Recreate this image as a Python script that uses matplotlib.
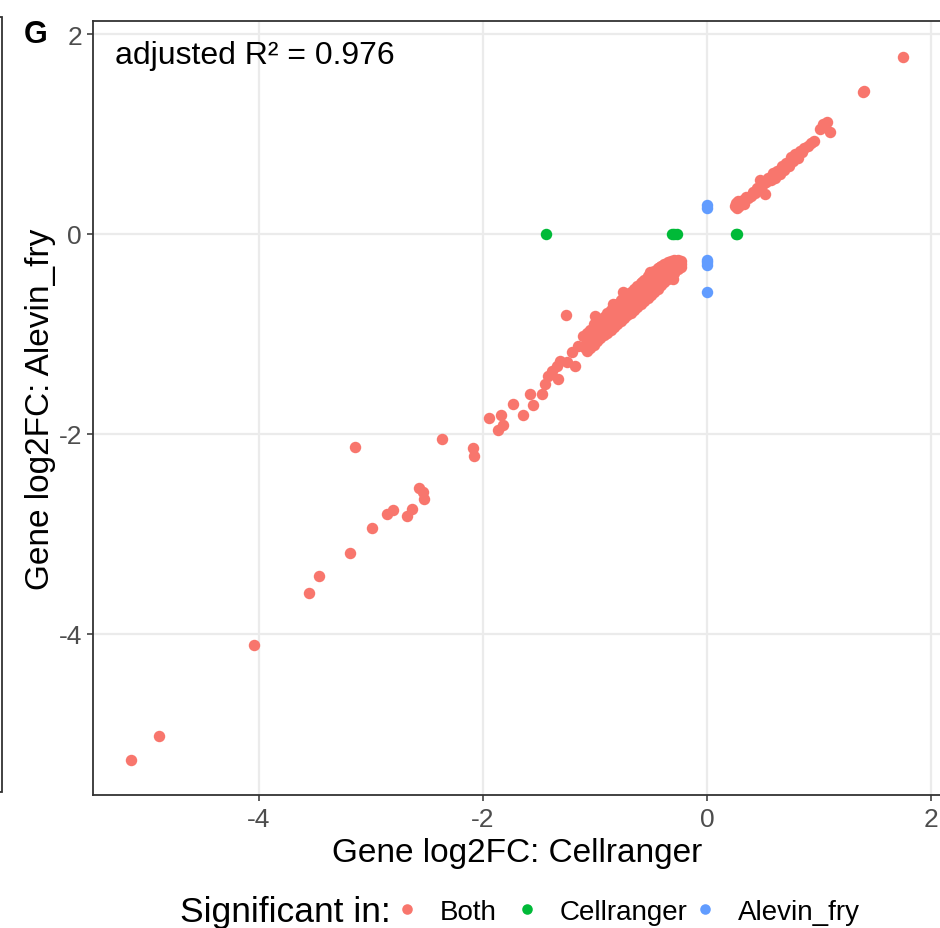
import matplotlib
matplotlib.use("Agg")
import matplotlib.pyplot as plt
from matplotlib.lines import Line2D
from matplotlib.patches import Rectangle

plt.rcParams['font.family'] = ['Liberation Sans', 'DejaVu Sans']

# ---------------- data ----------------
both_x = [
    -5.14, -4.89, -4.04, -3.55, -3.46, -3.19, -3.14, -2.985, -2.857, -2.80,
    -2.68, -2.634, -2.571, -2.536, -2.527, -2.366, -2.089, -2.083, -1.869, -1.824,
    -1.946, -1.84, -1.73, -1.64, -1.259,
    -1.58, -1.556, -1.476, -1.446, -1.417, -1.387, -1.342, -1.328, -1.3125, -1.253,
    -1.208, -1.179, -1.149, -1.104, -1.074, -1.10,
    -1.07, -1.07, -1.07, -1.04, -1.04, -1.04, -1.01, -1.01, -1.01,
    -0.98, -0.98, -0.98, -0.95, -0.95, -0.95, -0.92, -0.92, -0.92,
    -0.89, -0.89, -0.89, -0.86, -0.86, -0.86, -0.83, -0.83, -0.83,
    -0.80, -0.80, -0.80, -0.77, -0.77, -0.77, -0.74, -0.74, -0.74,
    -0.71, -0.71, -0.71, -0.68, -0.68, -0.68, -0.65, -0.65, -0.65,
    -0.62, -0.62, -0.62, -0.59, -0.59, -0.59, -0.56, -0.56, -0.56,
    -0.53, -0.53, -0.53, -0.50, -0.50, -0.50, -0.47, -0.47, -0.47,
    -0.44, -0.44, -0.44, -0.41, -0.41, -0.41, -0.38, -0.38, -0.38,
    -0.35, -0.35, -0.35, -0.32, -0.32, -0.32, -0.29, -0.29, -0.29,
    -0.26, -0.26, -0.26, -0.235, -0.235, -0.235,
    -1.00, -0.837, -0.747, -0.643, -0.583, -0.509, -0.42, -0.27, -0.30,
    0.25, 0.26, 0.27, 0.28, 0.29, 0.30, 0.32, 0.33, 0.35, 0.37,
    0.39, 0.41, 0.43, 0.45, 0.47, 0.47, 0.49, 0.51, 0.52, 0.53,
    0.55, 0.57, 0.59, 0.61, 0.63, 0.65, 0.67, 0.69, 0.71, 0.73,
    0.75, 0.77, 0.79, 0.81, 0.83, 0.85, 0.87, 0.90, 0.93, 0.96,
    1.039, 1.009, 1.098, 1.069, 1.39, 1.40, 1.747,
]
both_y = [
    -5.26, -5.02, -4.107, -3.59, -3.42, -3.19, -2.13, -2.937, -2.80, -2.76,
    -2.82, -2.747, -2.537, -2.577, -2.647, -2.047, -2.14, -2.217, -1.96, -1.91,
    -1.84, -1.807, -1.70, -1.807, -0.807,
    -1.60, -1.71, -1.60, -1.50, -1.417, -1.367, -1.317, -1.45, -1.267, -1.283,
    -1.183, -1.317, -1.117, -1.017, -1.15, -1.13,
    -0.99, -1.08, -1.17, -0.96, -1.05, -1.14, -0.90, -1.02, -1.11,
    -0.89, -0.99, -1.07, -0.86, -0.95, -1.04, -0.83, -0.93, -1.01,
    -0.79, -0.90, -0.99, -0.76, -0.87, -0.96, -0.72, -0.84, -0.93,
    -0.70, -0.81, -0.90, -0.66, -0.77, -0.87, -0.62, -0.74, -0.84,
    -0.60, -0.71, -0.81, -0.58, -0.68, -0.79, -0.55, -0.66, -0.76,
    -0.52, -0.63, -0.73, -0.49, -0.60, -0.70, -0.46, -0.57, -0.67,
    -0.42, -0.54, -0.64, -0.39, -0.51, -0.61, -0.37, -0.48, -0.58,
    -0.34, -0.45, -0.55, -0.32, -0.42, -0.51, -0.30, -0.39, -0.48,
    -0.28, -0.36, -0.45, -0.27, -0.34, -0.42, -0.26, -0.31, -0.39,
    -0.26, -0.29, -0.35, -0.27, -0.30, -0.33,
    -0.82, -0.70, -0.583, -0.55, -0.483, -0.383, -0.33, -0.267, -0.45,
    0.28, 0.31, 0.26, 0.33, 0.28, 0.31, 0.34, 0.30, 0.37, 0.36,
    0.38, 0.42, 0.41, 0.46, 0.44, 0.54, 0.49, 0.51, 0.40, 0.52,
    0.56, 0.54, 0.61, 0.56, 0.63, 0.60, 0.68, 0.64, 0.71, 0.68,
    0.77, 0.73, 0.80, 0.76, 0.83, 0.82, 0.86, 0.88, 0.91, 0.93,
    1.10, 1.05, 1.023, 1.117, 1.417, 1.43, 1.767,
]
cell_x = [-1.44, -0.315, -0.29, -0.265, 0.26, 0.27]
cell_y = [0.0, 0.0, 0.0, 0.0, 0.0, 0.0]
alev_x = [0.0, 0.0, 0.0, 0.0, 0.0, 0.0]
alev_y = [0.29, 0.26, -0.26, -0.28, -0.31, -0.577]

groups = ["Both", "Cellranger", "Alevin_fry"]
colors = ["#F8766D", "#00BA38", "#619CFF"]
xticks = [-4, -2, 0, 2]
yticks = [-4, -2, 0, 2]
r2_label = "adjusted R\u00b2 = 0.976"

# ---------------- figure ----------------
W, H = 940, 929
fig = plt.figure(figsize=(W / 100, H / 100), dpi=100)

def fx(px):
    return px / W

def fy(py):
    return 1 - py / H

ax = fig.add_axes([fx(93), fy(796), fx(941) - fx(93), fy(22) - fy(796)])
ax.set_xlim(-5.48, 2.09)
ax.set_ylim(-5.61, 2.13)

for v in xticks:
    ax.axvline(v, color="#EBEBEB", lw=1.6, zorder=0)
for v in yticks:
    ax.axhline(v, color="#EBEBEB", lw=1.6, zorder=0)

ms = 68
ax.scatter(both_x, both_y, s=ms, color=colors[0], lw=0, zorder=3)
ax.scatter(cell_x, cell_y, s=ms, color=colors[1], lw=0, zorder=3)
ax.scatter(alev_x, alev_y, s=ms, color=colors[2], lw=0, zorder=3)

ax.set_xticks(xticks)
ax.set_xticklabels([f"{t}" for t in xticks])
ax.set_yticks(yticks)
ax.set_yticklabels([f"{t}" for t in yticks])
ax.tick_params(axis="both", length=4, width=1.1, color="#333333",
               labelcolor="#4D4D4D", labelsize=19, pad=4)
ax.tick_params(axis="x", pad=5)
for sp in ax.spines.values():
    sp.set_color("#333333")
    sp.set_linewidth(1.3)

ax.set_xlabel("Gene log2FC: Cellranger", fontsize=24, color="black", labelpad=4)
ax.set_ylabel("Gene log2FC: Alevin_fry", fontsize=24, color="black", labelpad=2)

ax.text(0.026, 0.975, r2_label, transform=ax.transAxes, fontsize=23,
        ha="left", va="top", color="black")

fig.text(fx(24), fy(35), "G", fontsize=22, fontweight="bold", ha="left", va="center")

# neighbouring panel border at far left
fig.add_artist(Rectangle((fx(-40), fy(793)), fx(42), fy(18) - fy(793),
                         transform=fig.transFigure, fill=False,
                         edgecolor="#333333", lw=1.3))

# legend: title plus one key per group at its position
fig.text(fx(180), fy(913), "Significant in:", fontsize=25.5, ha="left", va="center")
key_px = [407, 527, 705]
em = 20 * 100 / 72
for g, c, kx in zip(groups, colors, key_px):
    h = Line2D([0], [0], marker="o", linestyle="", markersize=7.6,
               markerfacecolor=c, markeredgewidth=0)
    fig.legend([h], [g], loc="center left",
               bbox_to_anchor=(fx(kx - em / 2), fy(913)),
               frameon=False, fontsize=20, handlelength=1.0,
               handletextpad=0.68, borderpad=0, borderaxespad=0)

fig.savefig("out.png", dpi=100)
